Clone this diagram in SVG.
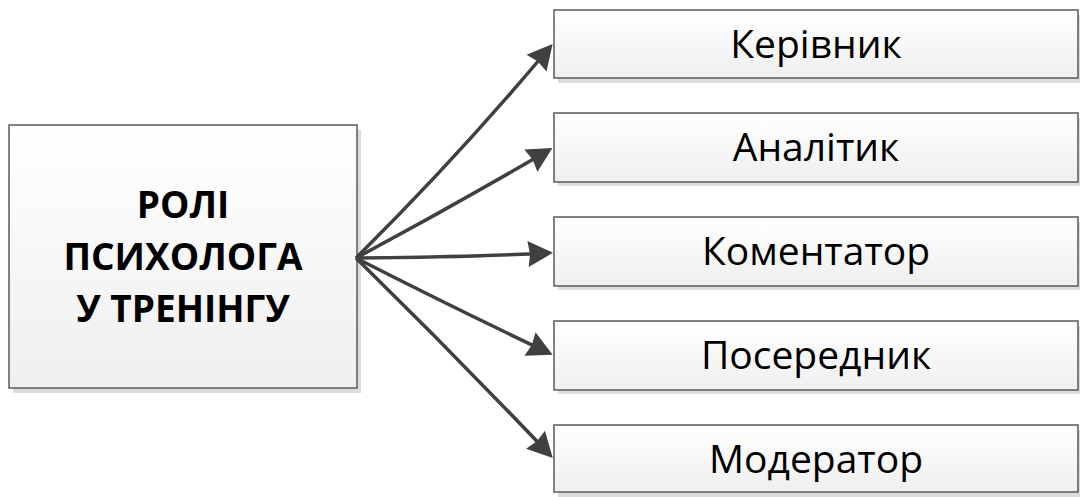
<svg xmlns="http://www.w3.org/2000/svg" width="1080" height="497" viewBox="0 0 1080 497">
<defs>
<linearGradient id="g" x1="0" y1="0" x2="0" y2="1">
<stop offset="0" stop-color="#ffffff"/>
<stop offset="1" stop-color="#efefef"/>
</linearGradient>
<marker id="ah" markerUnits="userSpaceOnUse" markerWidth="28" markerHeight="28" viewBox="0 -14 26 28" refX="21" refY="0" orient="auto">
<path d="M0,-13 L25,0 L0,13 L2,0 z" fill="#404040"/>
</marker>
<style>
.shadow{fill:#dcdcdc}
.box{fill:url(#g);stroke:#595959;stroke-width:1.5}
.lbl{font-family:"Open Sans","Noto Sans",sans-serif;font-size:39px;fill:#000;text-anchor:middle}
.ttl{font-family:"Open Sans","Noto Sans",sans-serif;font-size:37px;font-weight:bold;fill:#000;text-anchor:middle}
.con{fill:none;stroke:#404040;stroke-width:3.5;marker-end:url(#ah)}
</style>
</defs>
<rect width="1080" height="497" fill="#ffffff"/>
<g id="main">
<rect class="shadow" x="13" y="130" width="348" height="263"/>
<rect class="box" x="9" y="125" width="348" height="263"/>
<text class="ttl" x="183" y="218">РОЛІ</text>
<text class="ttl" x="183" y="270">ПСИХОЛОГА</text>
<text class="ttl" x="183" y="322">У ТРЕНІНГУ</text>
</g>
<g id="n1">
<rect class="shadow" x="558" y="15" width="524" height="68"/>
<rect class="box" x="554" y="10" width="524" height="68"/>
<text class="lbl" x="816" y="58">Керівник</text>
</g>
<g id="n2">
<rect class="shadow" x="558" y="118" width="524" height="68"/>
<rect class="box" x="554" y="113" width="524" height="69"/>
<text class="lbl" x="816" y="161">Аналітик</text>
</g>
<g id="n3">
<rect class="shadow" x="558" y="222" width="524" height="68"/>
<rect class="box" x="554" y="217" width="524" height="69"/>
<text class="lbl" x="816" y="265">Коментатор</text>
</g>
<g id="n4">
<rect class="shadow" x="558" y="326" width="524" height="68"/>
<rect class="box" x="554" y="321" width="524" height="69"/>
<text class="lbl" x="816" y="369">Посередник</text>
</g>
<g id="n5">
<rect class="shadow" x="558" y="430" width="524" height="68"/>
<rect class="box" x="554" y="425" width="524" height="67"/>
<text class="lbl" x="816" y="473">Модератор</text>
</g>
<g id="connectors">
<path class="con" d="M356,258 Q460,155 550,47"/>
<path class="con" d="M356,258 Q455,205 549,150"/>
<path class="con" d="M356,258 Q470,257 549,253"/>
<path class="con" d="M356,258 Q458,310 549,353"/>
<path class="con" d="M356,258 Q455,355 550,455"/>
</g>
</svg>
